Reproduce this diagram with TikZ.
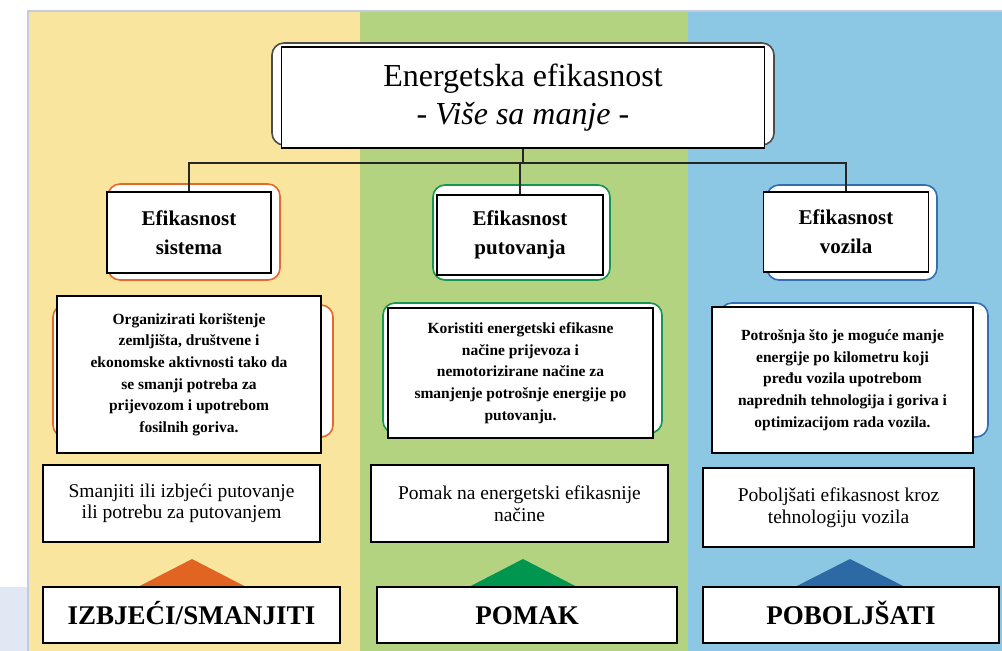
\documentclass[tikz,border=0pt]{standalone}
\usepackage{fontspec}
\setmainfont{Liberation Serif}
\usepackage{tikz}

\definecolor{yellowpanel}{RGB}{249,229,158}
\definecolor{greenpanel}{RGB}{179,211,128}
\definecolor{bluepanel}{RGB}{140,199,228}
\definecolor{sidepanel}{RGB}{226,232,243}
\definecolor{edgeline}{RGB}{196,202,224}
\definecolor{orangeline}{RGB}{232,104,44}
\definecolor{greenline}{RGB}{20,150,80}
\definecolor{blueline}{RGB}{50,110,180}
\definecolor{orangetri}{RGB}{226,100,35}
\definecolor{greentri}{RGB}{0,150,80}
\definecolor{bluetri}{RGB}{45,105,165}

\begin{document}
\begin{tikzpicture}[x=1pt,y=-1pt,
		titlebox/.style={draw=black, line width=1.4pt, fill=white, align=center, inner sep=0pt,
			font=\fontsize{32}{38}\selectfont},
		headbox/.style={draw=black, line width=1.6pt, fill=white, align=center, inner sep=0pt,
			font=\bfseries\fontsize{21}{29}\selectfont},
		descbox/.style={draw=black, line width=1.6pt, fill=white, align=center, inner sep=0pt,
			font=\bfseries\fontsize{15.5}{21.6}\selectfont},
		waybox/.style={draw=black, line width=1.3pt, fill=white, align=center, inner sep=0pt,
			font=\fontsize{19.5}{21.5}\selectfont},
		actbox/.style={draw=black, line width=1.6pt, fill=white, align=center, inner sep=0pt,
			minimum height=56pt, text height=19pt, text depth=0pt,
			font=\bfseries\fontsize{27}{32}\selectfont},
		backframe/.style={line width=1.6pt, fill=white, rounded corners=12pt},
		linkline/.style={draw=black!85, line width=1.2pt}]
		\useasboundingbox (0,0) rectangle (1002,651);
		% Coloured columns
		\fill[sidepanel] (0,587) rectangle (28,651);
		\fill[yellowpanel] (28,11) rectangle (360,651);
		\fill[greenpanel] (360,11) rectangle (688,651);
		\fill[bluepanel] (688,11) rectangle (1002,651);
		\draw[edgeline, line width=1.5pt] (28,651) -- (28,11) -- (1002,11);
		% Top box
		\draw[backframe, draw=black!70] (272,43) rectangle (774,145);
		\node[titlebox, minimum width=483pt, minimum height=101pt] (title) at (523,97.5)
			{Energetska efikasnost\\\textit{- Više sa manje -}};
		% Three kinds of efficiency
		\draw[backframe, draw=orangeline] (108,184) rectangle (280,280);
		\draw[backframe, draw=greenline] (433,185) rectangle (610,280);
		\draw[backframe, draw=blueline] (767,185) rectangle (937,280);
		\node[headbox, minimum width=164pt, minimum height=81pt] (sys) at (189,232.5)
			{Efikasnost\\sistema};
		\node[headbox, minimum width=166pt, minimum height=80pt] (put) at (520,235)
			{Efikasnost\\putovanja};
		\node[headbox, minimum width=165pt, minimum height=80pt] (voz) at (846,232)
			{Efikasnost\\vozila};
		\coordinate (jn) at (523,163);
		\draw[linkline] (title.south) -- (jn);
		\draw[linkline] (jn) -| (sys.north);
		\draw[linkline] (jn) -| (put.north);
		\draw[linkline] (jn) -| (voz.north);
		% Descriptions
		\draw[backframe, draw=orangeline] (53,305) rectangle (333,437);
		\draw[backframe, draw=greenline] (383,303) rectangle (662,433);
		\draw[backframe, draw=blueline] (720,303) rectangle (988,437);
		\node[descbox, minimum width=264pt, minimum height=157pt] (sysdesc) at (189,374.5)
			{Organizirati korištenje\\zemljišta, društvene i\\ekonomske aktivnosti tako da\\se smanji potreba za\\prijevozom i upotrebom\\fosilnih goriva.};
		\node[descbox, minimum width=265pt, minimum height=130pt] (putdesc) at (520.5,373)
			{Koristiti energetski efikasne\\načine prijevoza i\\nemotorizirane načine za\\smanjenje potrošnje energije po\\putovanju.};
		\node[descbox, minimum width=261pt, minimum height=146pt] (vozdesc) at (842.5,380)
			{Potrošnja što je moguće manje\\energije po kilometru koji\\pređu vozila upotrebom\\naprednih tehnologija i goriva i\\optimizacijom rada vozila.};
		% Ways
		\node[waybox, minimum width=277pt, minimum height=77pt] (sysway) at (181.5,503.5)
			{Smanjiti ili izbjeći putovanje\\ili potrebu za putovanjem};
		\node[waybox, minimum width=297pt, minimum height=77pt] (putway) at (519.5,503.5)
			{Pomak na energetski efikasnije\\načine};
		\node[waybox, minimum width=271pt, minimum height=79pt] (vozway) at (838.5,507.5)
			{Poboljšati efikasnost kroz\\tehnologiju vozila};
		% Arrow heads and actions
		\fill[orangetri] (132,590) -- (192,559) -- (252,590) -- cycle;
		\fill[greentri] (463,590) -- (523,559) -- (583,590) -- cycle;
		\fill[bluetri] (789,590) -- (850,559) -- (911,590) -- cycle;
		\node[actbox, minimum width=297pt] (sysact) at (191.5,615) {IZBJEĆI/SMANJITI};
		\node[actbox, minimum width=300pt] (putact) at (527,615) {POMAK};
		\node[actbox, minimum width=296pt] (vozact) at (851,615) {POBOLJŠATI};
	\end{tikzpicture}
\end{document}
